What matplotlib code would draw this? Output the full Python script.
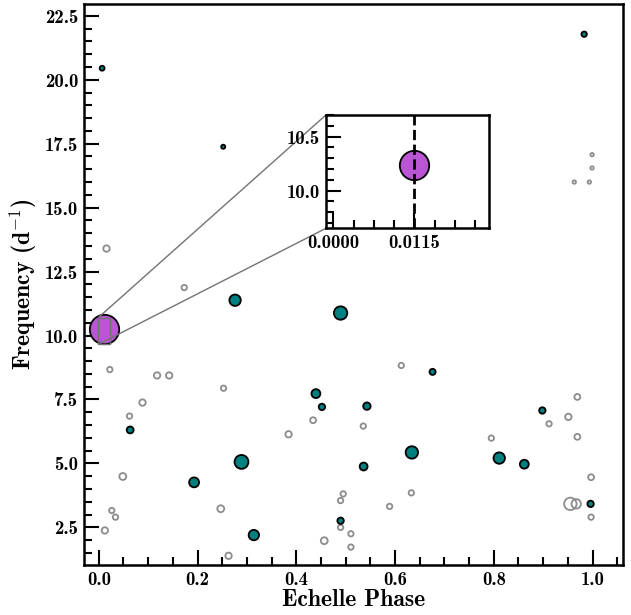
import numpy as np
import matplotlib
matplotlib.use("Agg")
import matplotlib.pyplot as plt
from mpl_toolkits.axes_grid1.inset_locator import mark_inset

plt.rcParams['font.family'] = ['cmb10', 'DejaVu Serif']
plt.rcParams['mathtext.fontset'] = 'cm'
plt.rcParams['axes.unicode_minus'] = False

# Independent modes (filled teal): echelle phase, frequency (d^-1), amplitude
ind_phase = [0.0067, 0.252, 0.983, 0.276, 0.0635, 0.4397, 0.289, 0.193, 0.314,
             0.4897, 0.676, 0.4519, 0.543, 0.8983, 0.634, 0.811, 0.8618,
             0.5363, 0.996, 0.4897]
ind_freq = [20.45, 17.38, 21.78, 11.38, 6.31, 7.73, 5.06, 4.26, 2.20,
            10.88, 8.58, 7.21, 7.24, 7.07, 5.43, 5.21, 4.97,
            4.88, 3.42, 2.76]
ind_amp = [5.5, 4.7, 6.0, 12.0, 7.5, 9.5, 14.5, 10.5, 11.0,
           14.0, 6.7, 7.0, 8.0, 7.0, 13.0, 12.0, 9.5,
           8.5, 7.0, 7.0]

# Combination frequencies (open grey)
comb_phase = [0.0156, 0.173, 0.0223, 0.118, 0.1425, 0.2527, 0.0885, 0.0622,
              0.3844, 0.434, 0.0486, 0.247, 0.0263, 0.0338, 0.0122, 0.2628,
              0.6126, 0.5356, 0.9692, 0.951, 0.9119, 0.9692, 0.795, 0.997,
              0.495, 0.4897, 0.633, 0.589, 0.955, 0.967, 0.997, 0.4897,
              0.5106, 0.4566, 0.5106, 0.999, 0.999, 0.963, 0.9935]
comb_freq = [13.40, 11.875, 8.67, 8.44, 8.44, 7.94, 7.38, 6.85,
             6.14, 6.69, 4.49, 3.23, 3.16, 2.90, 2.38, 1.39,
             8.83, 6.46, 7.60, 6.82, 6.55, 6.04, 5.99, 4.46,
             3.81, 3.55, 3.85, 3.32, 3.42, 3.42, 2.90, 2.50,
             2.25, 1.98, 1.73, 17.07, 16.55, 16.0, 16.0]
comb_amp = [7, 6, 6, 7, 7, 6, 7, 6,
            7, 6.5, 7.5, 7.5, 6, 6, 7, 7,
            6, 6, 6.5, 7, 6, 6.5, 6, 6.5,
            6, 6, 6, 6, 13, 10, 6, 6,
            6, 7.5, 6, 4, 4, 4, 4]

# Dominant mode
dom_phase = [0.0115]
dom_freq = [10.24]
dom_amp = [30.0]


def amp_to_s(a):
    a = np.asarray(a, dtype=float)
    return 0.518 * (a - 0.6) ** 2


fig = plt.figure(figsize=(6.31, 6.15), dpi=100)
ax = fig.add_axes([0.1331, 0.0813, 0.8537, 0.913])

ax.scatter(comb_phase, comb_freq, s=amp_to_s(comb_amp), facecolors='none',
           edgecolors='#8c8c8c', linewidths=1.3, zorder=2)
ax.scatter(ind_phase, ind_freq, s=amp_to_s(ind_amp), facecolors='#008080',
           edgecolors='k', linewidths=1.3, zorder=3)
ax.scatter(dom_phase, dom_freq, s=amp_to_s(dom_amp), facecolors='#ba55d3',
           edgecolors='k', linewidths=1.3, zorder=4)

ax.set_xlim(-0.03, 1.061)
ax.set_ylim(1.03, 22.98)
ax.set_xticks([0.0, 0.2, 0.4, 0.6, 0.8, 1.0])
ax.set_xticks(np.arange(0, 1.06, 0.05), minor=True)
ax.set_yticks([2.5, 5.0, 7.5, 10.0, 12.5, 15.0, 17.5, 20.0, 22.5])
ax.set_yticks(np.arange(1.5, 23.0, 0.5), minor=True)
ax.set_xticklabels(['0.0', '0.2', '0.4', '0.6', '0.8', '1.0'])
ax.set_yticklabels(['2.5', '5.0', '7.5', '10.0', '12.5', '15.0', '17.5',
                    '20.0', '22.5'])
ax.tick_params(which='both', direction='in', top=False, right=False,
               labelsize=13.5, width=1.5, pad=4)
ax.tick_params(which='major', length=11)
ax.tick_params(which='minor', length=5.5)
for sp in ax.spines.values():
    sp.set_linewidth(1.8)
ax.set_xlabel('Echelle Phase', fontsize=17, labelpad=0)
ax.set_ylabel('Frequency (d$^{-1}$)', fontsize=17, labelpad=4)

# inset zoom on dominant mode
axins = fig.add_axes([0.5166, 0.6288, 0.2583, 0.1843])
axins.scatter(dom_phase, dom_freq, s=amp_to_s(dom_amp), facecolors='#ba55d3',
              edgecolors='k', linewidths=1.3, zorder=2)
axins.axvline(dom_phase[0], color='k', ls='--', lw=2, zorder=3)
axins.set_xlim(-0.00104, 0.0221)
axins.set_ylim(9.65, 10.70)
axins.set_xticks([0.0, 0.0115])
axins.set_xticklabels(['0.0000', '0.0115'])
axins.set_xticks(np.arange(0, 0.0221, 0.0115 / 4), minor=True)
axins.set_yticks([10.0, 10.5])
axins.set_yticklabels(['10.0', '10.5'])
axins.set_yticks(np.arange(9.7, 10.71, 0.1), minor=True)
axins.tick_params(which='both', direction='in', top=False, right=False,
                  labelsize=13.5, width=1.5, pad=4)
axins.tick_params(which='major', length=11)
axins.tick_params(which='minor', length=5.5)
for sp in axins.spines.values():
    sp.set_linewidth(1.8)

pp, c1, c2 = mark_inset(ax, axins, loc1=2, loc2=3, fc='none', ec='0.45', lw=1)
pp.set_zorder(5)

fig.savefig('out.png', dpi=100)
